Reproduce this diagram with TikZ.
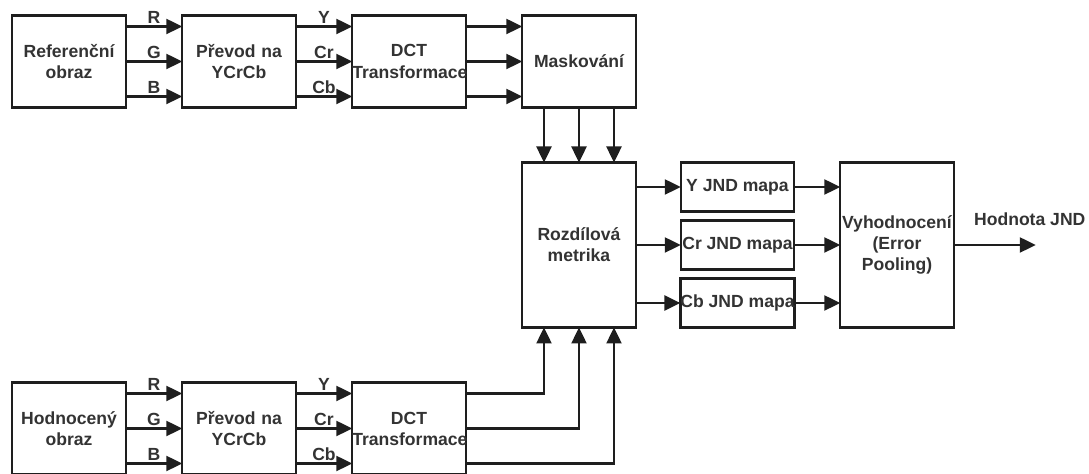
\documentclass[tikz,border=0pt]{standalone}
\usepackage{fontspec}
\setmainfont{Liberation Sans}
\usepackage{xcolor}
\definecolor{lineBlack}{HTML}{1E1E1E}
\definecolor{textGray}{HTML}{333333}
\usepackage{tikz}
\usetikzlibrary{
    arrows.meta,
    positioning,
    calc
}
\tikzset{
    % Base style for all boxes
    box base/.style={
        rectangle,
        draw=lineBlack,
        line width=1.4pt,
        font=\bfseries,
        text=textGray,
        align=center,
        inner sep=0pt,
        outer sep=0pt,
        minimum width=2.27cm,
    },
    % Standard boxes
    block/.style={
        box base,
        text width=2.27cm,
        minimum height=1.84cm,
    },
    % Tall boxes - metric and pooling
    tall block/.style={
        block,
        minimum height=3.3cm,
    },
    % Flat boxes - JND maps
    map block/.style={
        box base,
        minimum height=0.98cm,
    },
    % Plain arrow with big filled tip
    arrow/.style={
        -{Triangle[length=3.2mm, width=3mm]},
        draw=lineBlack,
        line width=1.4pt,
    },
    % Channel labels above arrows
    edge label/.style={
        font=\bfseries,
        text=textGray,
        inner sep=1pt,
    },
}

\begin{document}
\begin{tikzpicture}
    \useasboundingbox (0,0) rectangle (21.78,-9.48);

    % top row - reference image
    \node (ref) [block] at (1.38,-1.23) {Referenční\\obraz};
    \node (conv) [block, right=1.13cm of ref] {Převod na\\YCrCb};
    \node (dct) [block, right=1.13cm of conv] {DCT\\Transformace};
    \node (mask) [block, right=1.13cm of dct] {Maskování};

    % bottom row - tested image
    \node (test) [block, below=5.5cm of ref] {Hodnocený\\obraz};
    \node (convb) [block, below=5.5cm of conv] {Převod na\\YCrCb};
    \node (dctb) [block, below=5.5cm of dct] {DCT\\Transformace};

    % metric, maps and pooling
    \node (diff) [tall block, below=1.1cm of mask] {Rozdílová\\metrika};
    \node (crmap) [map block, right=0.9cm of diff] {Cr JND mapa};
    \node (ymap) [map block, above=0.18cm of crmap] {Y JND mapa};
    \node (cbmap) [map block, below=0.18cm of crmap] {Cb JND mapa};
    \node (pool) [tall block, right=0.92cm of crmap] {Vyhodnocení\\(Error\\Pooling)};
    \coordinate [right=1.64cm of pool] (out);
    \node (result) [edge label, above=0.34cm of out, xshift=-0.12cm] {Hodnota JND};

    \foreach \dy/\rgb/\ycc in {0.7/R/Y, 0/G/Cr, -0.7/B/Cb} {
        \draw [arrow] ([yshift=\dy cm]ref.east) -- node[edge label, above] {\rgb} ([yshift=\dy cm]conv.west);
        \draw [arrow] ([yshift=\dy cm]conv.east) -- node[edge label, above] {\ycc} ([yshift=\dy cm]dct.west);
        \draw [arrow] ([yshift=\dy cm]dct.east) -- ([yshift=\dy cm]mask.west);
        \draw [arrow] ([yshift=\dy cm]test.east) -- node[edge label, above] {\rgb} ([yshift=\dy cm]convb.west);
        \draw [arrow] ([yshift=\dy cm]convb.east) -- node[edge label, above] {\ycc} ([yshift=\dy cm]dctb.west);
        \draw [arrow] ([yshift=\dy cm]dctb.east) -| ([xshift=-\dy cm]diff.south);
        \draw [arrow] ([xshift=-\dy cm]mask.south) -- ([xshift=-\dy cm]diff.north);
    }

    \foreach \m in {ymap, crmap, cbmap} {
        \draw [arrow] (diff.east |- \m.west) -- (\m.west);
        \draw [arrow] (\m.east) -- (\m.east -| pool.west);
    }
    \draw [arrow] (pool.east) -- (out);
\end{tikzpicture}
\end{document}
